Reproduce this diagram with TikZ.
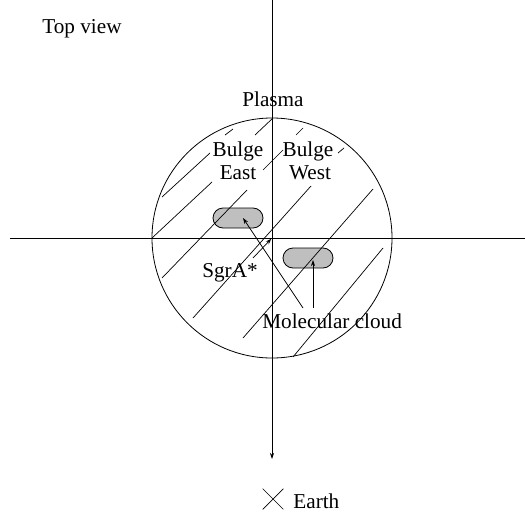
\documentclass[tikz,border=0pt]{standalone}
\usepackage{fontspec}
\setmainfont{Liberation Serif}
\usetikzlibrary{arrows.meta, positioning, shapes.misc}

\begin{document}
\begin{tikzpicture}[x=1pt, y=-1pt, line width=0.8pt,
    every node/.style={font=\fontsize{21.2}{24}\selectfont, inner sep=0pt},
    hatch/.style={line width=0.7pt},
    cloud/.style={draw, fill=gray!50, rounded corners=10pt,
                  minimum width=50pt, minimum height=20pt},
    pointer/.style={-{Stealth[length=6pt, width=4pt]}, line width=0.7pt}]
  \useasboundingbox (0,0) rectangle (525,514);
  % axes and bulge
  \coordinate (gc) at (272,238);
  \coordinate (west) at (10,238);
  \coordinate (east) at (525,238);
  \coordinate (north) at (272,0);
  \coordinate (south) at (272,459);
  \draw (west) -- (east);
  \draw[pointer] (north) -- (south);
  \draw (gc) circle[radius=120pt];
  % molecular clouds
  \node[cloud] (cloudE) at (238,218) {};
  \node[cloud] (cloudW) at (308,258) {};
  % plasma hatching
  \draw[hatch] (152,238) -- (212,182) (255,135) -- (273,118);
  \draw[hatch] (162,197) -- (210,153) (225,135) -- (233,129);
  \draw[hatch] (162,278) -- (247,190) (263,170) -- (283,150)
               (296,135) -- (303,128);
  \draw[hatch] (193,318) -- (311,186) (338,153) -- (344,148);
  \draw[hatch] (243,338) -- (373,189);
  \draw[hatch] (293,357) -- (383,248);
  % labels
  \node[anchor=base west] (topview) at (42,33) {Top view};
  \node[anchor=base] (plasma) at (273,106) {Plasma};
  \node[anchor=base] (bulgeE) at (238,156) {Bulge};
  \node[anchor=base] (eastlbl) at (238,179) {East};
  \node[anchor=base] (bulgeW) at (308,156) {Bulge};
  \node[anchor=base] (westlbl) at (310,179) {West};
  \node[anchor=base] (sgra) at (230,277) {SgrA*};
  \node[anchor=base west] (molcloud) at (262,328) {Molecular cloud};
  \node[cross out, draw, minimum size=20pt, line width=0.7pt] (earthx) at (273,499) {};
  \node[anchor=base west] (earth) at (293,508) {Earth};
  % pointers
  \coordinate (sgratail) at (253,258);
  \coordinate (mcE) at (303,308);
  \coordinate (mcW) at (313,308);
  \draw[pointer, shorten >=1pt] (sgratail) -- (gc);
  \draw[pointer] (mcE) -- ([xshift=5pt]cloudE.center);
  \draw[pointer] (mcW) -- ([xshift=5pt, yshift=-2pt]cloudW.center);
\end{tikzpicture}
\end{document}
